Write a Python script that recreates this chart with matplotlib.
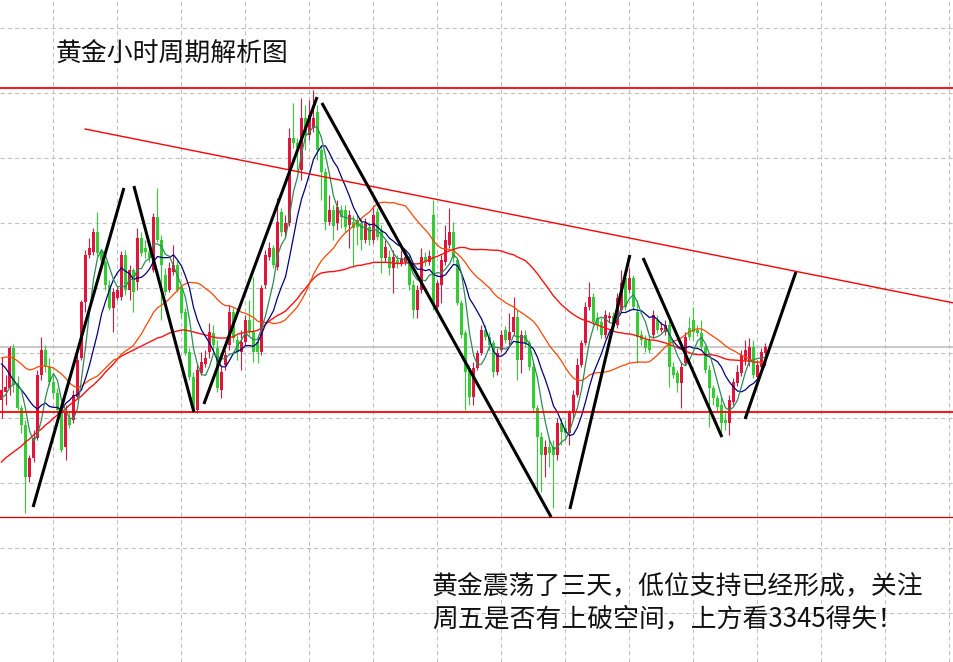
import numpy as np
import pandas as pd
import matplotlib
matplotlib.use("Agg")
import matplotlib.pyplot as plt

plt.rcParams['font.family'] = ['Noto Sans CJK SC', 'DejaVu Sans']

# ---- hourly gold candles (USD/oz) ----
open_ = [
    3325.8, 3327.0, 3327.6, 3333.6, 3328.05, 3324.6, 3322.05, 3314.25, 3317.1, 3320.1,
    3329.55, 3333.3, 3330.75, 3328.5, 3326.85, 3324.3, 3318.75, 3323.1, 3322.8, 3326.25,
    3332.1, 3340.5, 3347.55, 3348.0, 3351.0, 3348.0, 3346.5, 3343.05, 3339.6, 3341.1,
    3341.25, 3347.55, 3342.3, 3345.3, 3343.5, 3350.1, 3348.6, 3348.0, 3345.3, 3353.25,
    3349.8, 3344.55, 3342.3, 3345.0, 3346.05, 3342.6, 3339.0, 3333.0, 3329.25, 3324.3,
    3329.85, 3331.2, 3333.0, 3335.85, 3333.6, 3327.3, 3331.05, 3334.05, 3339.0, 3334.8,
    3333.0, 3334.5, 3337.8, 3336.0, 3334.5, 3333.0, 3343.05, 3347.25, 3348.6, 3345.75,
    3354.0, 3351.0, 3352.35, 3365.1, 3364.35, 3360.3, 3368.1, 3365.55, 3366.6, 3369.0,
    3363.3, 3360.0, 3352.5, 3354.3, 3352.35, 3354.3, 3354.3, 3352.05, 3352.5, 3352.8,
    3352.35, 3349.8, 3351.75, 3349.8, 3354.0, 3351.3, 3347.1, 3347.25, 3345.6, 3346.8,
    3346.35, 3346.5, 3346.8, 3343.05, 3339.3, 3342.3, 3347.25, 3346.5, 3353.55, 3339.75,
    3343.05, 3346.5, 3349.05, 3351.0, 3346.8, 3340.35, 3335.85, 3330.6, 3326.25, 3330.6,
    3332.85, 3336.3, 3335.25, 3334.35, 3330.0, 3333.3, 3336.3, 3334.8, 3336.0, 3338.25,
    3331.8, 3335.55, 3334.35, 3330.75, 3324.6, 3320.25, 3317.55, 3318.75, 3318.75, 3317.55,
    3322.35, 3321.6, 3320.85, 3323.85, 3326.55, 3331.05, 3334.35, 3339.75, 3341.25, 3338.1,
    3337.5, 3335.55, 3338.1, 3338.4, 3337.05, 3339.3, 3344.1, 3342.3, 3344.1, 3339.0,
    3335.55, 3334.8, 3334.8, 3335.55, 3337.8, 3336.3, 3336.0, 3337.05, 3330.75, 3329.85,
    3328.35, 3331.35, 3336.6, 3337.8, 3336.3, 3335.85, 3333.75, 3330.3, 3327.6, 3326.1,
    3325.05, 3322.8, 3322.35, 3325.5, 3328.35, 3329.85, 3331.8, 3331.5, 3333.75, 3329.25,
    3330.75, 3332.85,
]
high = [
    3332.25, 3329.55, 3333.9, 3334.2, 3329.4, 3325.05, 3322.8, 3317.55, 3321.3, 3330.3,
    3335.25, 3334.05, 3332.1, 3329.55, 3327.6, 3325.05, 3325.05, 3324.0, 3327.3, 3332.55,
    3340.8, 3348.3, 3350.1, 3351.6, 3354.0, 3348.3, 3346.8, 3343.8, 3342.6, 3342.9,
    3348.15, 3348.3, 3346.05, 3345.6, 3351.6, 3351.0, 3349.8, 3349.05, 3353.85, 3357.6,
    3350.55, 3345.6, 3346.5, 3349.05, 3346.8, 3343.05, 3339.6, 3333.6, 3330.0, 3331.05,
    3333.0, 3333.3, 3337.35, 3337.05, 3334.8, 3331.05, 3333.3, 3340.05, 3339.6, 3335.55,
    3336.3, 3338.55, 3340.8, 3344.25, 3335.55, 3343.05, 3348.3, 3349.5, 3349.05, 3356.1,
    3354.6, 3353.55, 3366.6, 3370.35, 3365.1, 3371.1, 3370.05, 3370.8, 3372.3, 3370.05,
    3364.05, 3360.6, 3356.55, 3355.05, 3355.8, 3355.05, 3355.05, 3354.3, 3353.55, 3353.55,
    3353.1, 3353.1, 3352.5, 3355.05, 3354.6, 3352.05, 3349.8, 3348.3, 3348.3, 3347.55,
    3348.3, 3348.3, 3347.55, 3343.8, 3343.05, 3348.6, 3348.0, 3348.3, 3355.8, 3343.8,
    3347.55, 3352.05, 3354.6, 3352.5, 3347.1, 3340.8, 3336.3, 3331.05, 3331.5, 3333.3,
    3337.05, 3337.05, 3336.0, 3334.8, 3333.6, 3336.3, 3336.9, 3338.85, 3341.25, 3339.3,
    3336.3, 3336.3, 3334.8, 3331.5, 3325.05, 3321.0, 3319.8, 3319.8, 3319.8, 3323.1,
    3323.1, 3322.8, 3324.3, 3327.3, 3332.1, 3334.8, 3340.5, 3343.5, 3341.85, 3339.0,
    3338.1, 3339.3, 3339.0, 3339.0, 3341.85, 3345.3, 3344.85, 3345.6, 3344.55, 3340.8,
    3336.3, 3335.55, 3335.55, 3339.3, 3338.55, 3337.5, 3337.8, 3337.8, 3331.5, 3330.3,
    3331.5, 3336.0, 3338.25, 3339.75, 3337.05, 3337.8, 3334.05, 3331.05, 3328.05, 3326.55,
    3326.25, 3324.3, 3326.55, 3329.1, 3331.05, 3333.3, 3334.8, 3335.1, 3334.8, 3331.8,
    3333.6, 3334.35,
]
low = [
    3323.1, 3325.05, 3326.55, 3327.0, 3324.3, 3320.85, 3308.85, 3313.5, 3316.5, 3319.8,
    3328.8, 3330.0, 3328.05, 3326.1, 3323.55, 3318.0, 3316.8, 3321.6, 3322.35, 3326.1,
    3331.8, 3339.0, 3347.1, 3347.55, 3347.4, 3346.5, 3342.3, 3339.3, 3336.0, 3340.8,
    3340.8, 3341.55, 3340.8, 3339.0, 3342.3, 3347.4, 3347.1, 3346.5, 3345.0, 3349.5,
    3337.8, 3341.55, 3342.0, 3344.55, 3342.0, 3338.1, 3332.55, 3328.8, 3324.0, 3323.85,
    3329.55, 3330.75, 3332.1, 3333.3, 3327.0, 3326.1, 3330.3, 3333.3, 3334.5, 3331.8,
    3330.3, 3334.05, 3335.4, 3331.5, 3331.35, 3332.55, 3342.6, 3346.8, 3345.6, 3345.3,
    3350.4, 3350.25, 3351.9, 3363.6, 3360.0, 3358.8, 3363.3, 3364.8, 3366.0, 3361.8,
    3355.8, 3351.3, 3352.05, 3349.8, 3351.3, 3351.6, 3351.0, 3348.6, 3345.75, 3349.05,
    3348.3, 3349.35, 3349.05, 3349.35, 3349.8, 3344.85, 3346.5, 3344.55, 3341.85, 3345.6,
    3345.9, 3346.05, 3342.3, 3338.1, 3338.1, 3341.85, 3345.9, 3346.05, 3339.3, 3338.85,
    3340.35, 3346.05, 3348.6, 3346.5, 3340.05, 3335.1, 3324.3, 3325.05, 3325.05, 3330.3,
    3332.55, 3334.8, 3333.3, 3329.25, 3329.55, 3333.0, 3334.35, 3334.05, 3335.55, 3328.8,
    3329.85, 3333.75, 3330.3, 3324.0, 3311.85, 3312.0, 3314.25, 3315.75, 3309.6, 3316.8,
    3319.05, 3319.8, 3319.05, 3323.1, 3326.25, 3330.75, 3334.05, 3339.3, 3337.05, 3336.3,
    3335.1, 3335.1, 3337.5, 3336.3, 3336.6, 3339.0, 3339.3, 3341.85, 3339.3, 3331.35,
    3334.05, 3333.0, 3332.85, 3335.1, 3335.85, 3336.0, 3335.55, 3327.75, 3329.1, 3327.0,
    3324.6, 3331.05, 3334.8, 3334.8, 3335.4, 3333.3, 3329.85, 3321.75, 3325.05, 3324.0,
    3320.25, 3321.3, 3320.55, 3325.05, 3327.9, 3329.4, 3331.05, 3330.9, 3329.1, 3328.8,
    3330.3, 3332.55,
]
close = [
    3327.3, 3327.75, 3333.6, 3328.05, 3324.6, 3322.05, 3314.25, 3317.1, 3320.1, 3329.55,
    3333.3, 3330.75, 3328.5, 3326.85, 3324.3, 3318.3, 3323.85, 3322.05, 3326.55, 3331.8,
    3340.5, 3347.55, 3348.6, 3351.0, 3347.85, 3346.8, 3343.05, 3339.6, 3342.0, 3342.3,
    3347.55, 3342.3, 3345.3, 3342.0, 3350.1, 3347.85, 3348.0, 3347.1, 3353.25, 3349.8,
    3346.05, 3342.0, 3345.6, 3346.05, 3342.3, 3338.85, 3332.85, 3329.25, 3324.3, 3330.3,
    3331.5, 3332.1, 3336.0, 3334.05, 3327.6, 3330.0, 3332.55, 3339.0, 3335.1, 3333.0,
    3334.5, 3337.8, 3336.0, 3333.0, 3333.0, 3342.6, 3347.55, 3348.6, 3346.05, 3352.5,
    3351.0, 3352.35, 3365.1, 3364.35, 3363.6, 3368.1, 3365.55, 3368.55, 3368.1, 3363.3,
    3360.0, 3352.5, 3354.3, 3351.9, 3354.75, 3353.25, 3351.75, 3353.55, 3351.6, 3351.75,
    3349.8, 3352.35, 3349.8, 3353.55, 3350.25, 3347.1, 3348.75, 3345.6, 3347.25, 3346.35,
    3347.1, 3347.25, 3343.05, 3339.3, 3342.3, 3347.25, 3346.5, 3347.4, 3340.05, 3343.35,
    3346.8, 3349.8, 3351.0, 3347.1, 3340.35, 3335.55, 3330.0, 3326.25, 3330.6, 3332.85,
    3336.3, 3335.25, 3334.05, 3330.0, 3332.85, 3335.55, 3334.8, 3336.0, 3338.25, 3331.8,
    3335.55, 3334.35, 3330.75, 3324.6, 3320.25, 3317.55, 3318.75, 3317.85, 3317.55, 3322.35,
    3321.0, 3320.85, 3323.85, 3326.55, 3331.05, 3334.35, 3339.75, 3341.25, 3337.5, 3337.05,
    3335.55, 3338.55, 3338.4, 3336.75, 3341.1, 3343.35, 3339.75, 3344.1, 3339.75, 3335.25,
    3334.8, 3333.6, 3333.3, 3338.55, 3336.3, 3336.6, 3337.05, 3330.75, 3329.55, 3328.35,
    3330.75, 3335.25, 3335.25, 3336.0, 3335.85, 3333.75, 3330.3, 3327.6, 3326.1, 3324.75,
    3322.35, 3322.35, 3325.8, 3328.5, 3330.0, 3332.55, 3333.3, 3333.75, 3329.55, 3331.05,
    3333.0, 3333.75,
]

# moving-average values carried over from bars before the window starts
ma5_head = [3326.1, 3326.55, 3327.6, 3328.2]
ma10_head = [3331.2, 3330.6, 3329.7, 3328.8, 3328.05, 3327.3, 3326.55, 3325.65, 3324.9]
ma30_head = [
    3332.1, 3332.25, 3332.25, 3332.1, 3331.65, 3331.2, 3330.6, 3330.3, 3330.45, 3330.75,
    3330.9, 3330.9, 3330.75, 3330.6, 3330.15, 3329.7, 3329.1, 3328.35, 3327.9, 3327.6,
    3327.9, 3328.35, 3328.8, 3329.1, 3329.4, 3330.0, 3330.6, 3331.2, 3331.8,
]
ma60_head = [
    3316.5, 3317.1, 3317.55, 3318.0, 3318.45, 3318.9, 3319.5, 3319.95, 3320.55, 3321.0,
    3321.45, 3322.05, 3322.5, 3323.1, 3323.55, 3324.0, 3324.45, 3325.05, 3325.5, 3325.95,
    3326.4, 3327.0, 3327.6, 3328.05, 3328.65, 3329.25, 3330.0, 3330.6, 3331.2, 3331.95,
    3332.4, 3332.7, 3333.0, 3333.3, 3333.6, 3333.9, 3334.2, 3334.5, 3334.8, 3335.1,
    3335.25, 3335.55, 3335.85, 3336.0, 3336.15, 3336.3, 3336.3, 3336.15, 3336.0, 3335.85,
    3335.7, 3335.55, 3335.4, 3335.25, 3335.1, 3335.1, 3335.1, 3335.25, 3335.25,
]

# key price levels
top_level = 3372.6
support_level = 3324.0
bottom_level = 3308.25

# descending resistance line (bar index, price)
resist_x = [20.9, 238.1]
resist_y = [3366.45, 3340.35]

# swing legs (bar index, price) for each leg
wave_x = [[7.9, 30.6], [33.1, 48.1], [50.6, 78.9], [80.1, 137.4],
          [142.1, 157.1], [160.4, 180.1], [185.9, 198.6]]
wave_y = [[3309.75, 3357.6], [3357.9, 3324.0], [3325.2, 3371.25], [3370.35, 3308.25],
          [3309.45, 3347.55], [3347.1, 3320.25], [3322.95, 3345.0]]

title = "黄金小时周期解析图"
note_lines = ["黄金震荡了三天，低位支持已经形成，关注",
              "周五是否有上破空间，上方看3345得失！"]

# ---- drawing ----
W, H = 954, 662
fig = plt.figure(figsize=(W / 100, H / 100), dpi=100, facecolor="white")
ax = fig.add_axes([0, 0, 1, 1])
ax.set_facecolor("white")

o = np.array(open_)
hi = np.array(high)
lo = np.array(low)
c = np.array(close)
idx = np.arange(len(c))

UP = "#e0143c"
DOWN = "#32cd32"
cols = np.where(c >= o, UP, DOWN)

ax.vlines(idx, lo, hi, colors=cols, linewidth=0.8, zorder=3)
body_lo = np.minimum(o, c)
body_h = np.maximum(np.abs(c - o), 0.15)
ax.bar(idx, body_h, bottom=body_lo, width=0.72, color=cols, linewidth=0,
       zorder=4, antialiased=False)

cs = pd.Series(c)


def moving_average(period, head):
    ma = cs.rolling(period).mean().to_numpy()
    ma[:period - 1] = head
    return ma


ax.plot(idx, moving_average(60, ma60_head), color="#ff1010", lw=1.0, zorder=5)
ax.plot(idx, moving_average(30, ma30_head), color="#ff4500", lw=0.9, zorder=5)
ax.plot(idx, moving_average(10, ma10_head), color="#000080", lw=0.9, zorder=5)
ax.plot(idx, moving_average(5, ma5_head), color="#2e8b57", lw=0.9, zorder=5)

# horizontal levels and last price
ax.axhline(top_level, color="#ff0000", lw=1.3, zorder=6)
ax.axhline(support_level, color="#ff0000", lw=1.3, zorder=6)
ax.axhline(bottom_level, color="#d00000", lw=0.9, zorder=6)
ax.axhline(c[-1], color="#c0c0c0", lw=1.2, zorder=2)

ax.plot(resist_x, resist_y, color="#ff0000", lw=1.0, zorder=6)
for xs, ys in zip(wave_x, wave_y):
    ax.plot(xs, ys, color="black", lw=2.2, solid_capstyle="butt", zorder=7)

# view and grid
ax.set_xlim(-0.375, 238.125)
ax.set_ylim(3286.5, 3385.8)
ax.set_xticks(np.arange(13, 240, 16))
ax.set_yticks([3381.6, 3371.85, 3362.1, 3352.35, 3342.6, 3332.85,
               3323.1, 3313.35, 3303.6, 3293.85])
ax.grid(True, color="#c0c0c0", linestyle=(0, (4, 3)), linewidth=0.75)
ax.set_axisbelow(True)
ax.tick_params(length=0, labelbottom=False, labelleft=False)
for s in ax.spines.values():
    s.set_visible(False)

fig.text(56 / W, 1 - 54 / H, title, fontsize=18.6, color="#111111",
         ha="left", va="center")
fig.text(432 / W, 1 - 587 / H, note_lines[0], fontsize=18.6, color="#111111",
         ha="left", va="center")
fig.text(432 / W, 1 - 619 / H, note_lines[1], fontsize=18.6, color="#111111",
         ha="left", va="center")

fig.savefig("out.png", dpi=100, facecolor="white")
